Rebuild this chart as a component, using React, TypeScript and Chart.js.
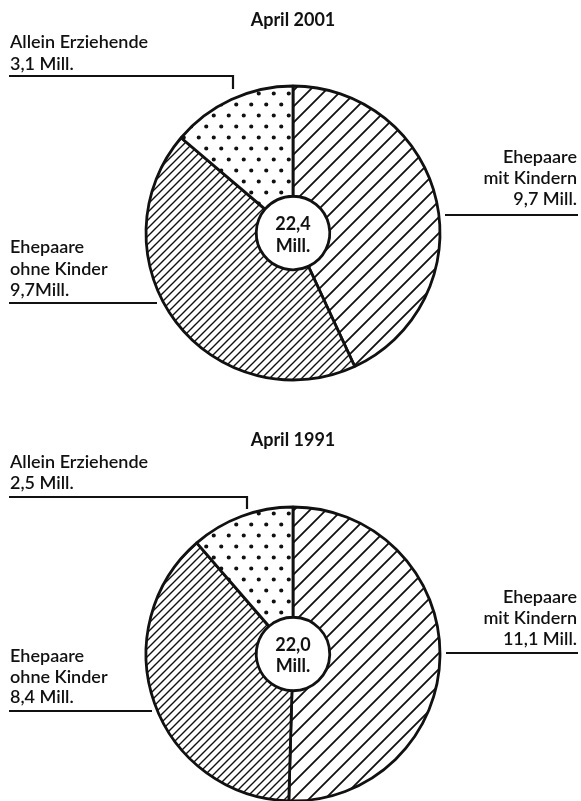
import React, { useEffect, useRef } from "react";
import { Chart, registerables } from "chart.js";

Chart.register(...registerables);

// ---- data ----
const categoryLines: string[][] = [
  ["Ehepaare", "mit Kindern"],
  ["Ehepaare", "ohne Kinder"],
  ["Allein Erziehende"],
];
const titles = ["April 2001", "April 1991"];
const values2001 = [9.7, 9.7, 3.1];
const values1991 = [11.1, 8.4, 2.5];
const totalLabels = ["22,4", "22,0"];
const valueLabels2001 = ["9,7 Mill.", "9,7Mill.", "3,1 Mill."];
const valueLabels1991 = ["11,1 Mill.", "8,4 Mill.", "2,5 Mill."];

// ---- layout (positions only) ----
type LabelPos = {
  x: number;
  align: CanvasTextAlign;
  baselines: number[];
  line: [number, number][];
};
type Layout = {
  top: number;
  height: number;
  padTop: number;
  titleY: number;
  centerY: [number, number];
  labels: LabelPos[];
};

const layouts: Layout[] = [
  {
    top: 0,
    height: 420,
    padTop: 46,
    titleY: 26,
    centerY: [230, 252],
    labels: [
      { x: 577, align: "right", baselines: [163, 184, 205], line: [[445, 215], [578, 215]] },
      { x: 10, align: "left", baselines: [253, 275, 296], line: [[9, 303], [157, 303]] },
      { x: 10, align: "left", baselines: [48, 70], line: [[9, 76], [233, 76], [233, 89]] },
    ],
  },
  {
    top: 420,
    height: 400,
    padTop: 68,
    titleY: 26,
    centerY: [231, 252],
    labels: [
      { x: 577, align: "right", baselines: [183, 204, 225], line: [[446, 233], [578, 233]] },
      { x: 10, align: "left", baselines: [242, 263, 283], line: [[9, 291], [152, 291]] },
      { x: 10, align: "left", baselines: [48, 69], line: [[9, 77], [247, 77], [247, 89]] },
    ],
  },
];

const FONT = "Lato, 'Open Sans', sans-serif";
const INK = "#111";

function makeHatch(size: number, width: number): CanvasPattern | string {
  const c = document.createElement("canvas");
  c.width = size;
  c.height = size;
  const g = c.getContext("2d");
  if (!g) return "#fff";
  g.fillStyle = "#fff";
  g.fillRect(0, 0, size, size);
  g.strokeStyle = INK;
  g.lineWidth = width;
  g.lineCap = "square";
  g.beginPath();
  g.moveTo(0, size);
  g.lineTo(size, 0);
  g.moveTo(-size / 2, size / 2);
  g.lineTo(size / 2, -size / 2);
  g.moveTo(size / 2, size * 1.5);
  g.lineTo(size * 1.5, size / 2);
  g.stroke();
  const p = g.createPattern(c, "repeat");
  return p || "#fff";
}

function makeDots(w: number, h: number, r: number): CanvasPattern | string {
  const c = document.createElement("canvas");
  c.width = w;
  c.height = h;
  const g = c.getContext("2d");
  if (!g) return "#fff";
  g.fillStyle = "#fff";
  g.fillRect(0, 0, w, h);
  g.fillStyle = INK;
  g.beginPath();
  g.arc(w / 4, h / 4, r, 0, Math.PI * 2);
  g.arc((3 * w) / 4, (3 * h) / 4, r, 0, Math.PI * 2);
  g.fill();
  const p = g.createPattern(c, "repeat");
  return p || "#fff";
}

function PieChart({ index }: { index: number }) {
  const ref = useRef<HTMLCanvasElement | null>(null);
  const lay = layouts[index];
  const values = index === 0 ? values2001 : values1991;
  const valueLabels = index === 0 ? valueLabels2001 : valueLabels1991;

  useEffect(() => {
    if (!ref.current) return;
    const patterns = [makeHatch(16, 1.8), makeHatch(8, 1.4), makeDots(15, 22, 2.1)];

    const annotate = {
      id: "annotate" + index,
      afterDraw(chart: Chart) {
        const ctx = chart.ctx;
        const meta = chart.getDatasetMeta(0);
        const arc: any = meta.data[0];
        const cx = arc ? arc.x : 293;
        ctx.save();
        ctx.fillStyle = INK;
        ctx.strokeStyle = INK;
        // title
        ctx.font = `bold 18px ${FONT}`;
        ctx.textAlign = "center";
        ctx.textBaseline = "alphabetic";
        ctx.fillText(titles[index], cx, lay.titleY);
        // centre
        ctx.font = `bold 18px ${FONT}`;
        ctx.fillText(totalLabels[index], cx, lay.centerY[0]);
        ctx.fillText("Mill.", cx, lay.centerY[1]);
        // labels
        ctx.font = `600 18px ${FONT}`;
        lay.labels.forEach((lp, i) => {
          const lines = [...categoryLines[i], valueLabels[i]];
          ctx.textAlign = lp.align;
          lines.forEach((t, k) => ctx.fillText(t, lp.x, lp.baselines[k]));
          ctx.lineWidth = 2.2;
          ctx.beginPath();
          lp.line.forEach(([x, y], k) => (k === 0 ? ctx.moveTo(x, y) : ctx.lineTo(x, y)));
          ctx.stroke();
        });
        ctx.restore();
      },
    };

    const chart = new Chart(ref.current, {
      type: "doughnut",
      data: {
        labels: categoryLines.map((l) => l.join(" ")),
        datasets: [
          {
            data: values,
            backgroundColor: patterns as any,
            borderColor: INK,
            borderWidth: 2.8,
            borderAlign: "center",
            hoverOffset: 0,
          },
        ],
      },
      options: {
        responsive: false,
        animation: false,
        cutout: "25%",
        radius: 147,
        layout: { padding: { top: lay.padTop, left: 5, right: 0, bottom: 0 } },
        plugins: {
          legend: { display: false },
          tooltip: { enabled: false },
        },
        events: [],
      },
      plugins: [annotate],
    });
    return () => chart.destroy();
  }, [index]);

  return (
    <canvas
      ref={ref}
      width={581}
      height={lay.height}
      style={{ position: "absolute", left: 0, top: lay.top, width: 581, height: lay.height }}
    />
  );
}

export default function App() {
  return (
    <div
      style={{
        position: "absolute",
        left: 0,
        top: 0,
        width: 581,
        height: 801,
        overflow: "hidden",
        background: "#fff",
      }}
    >
      <PieChart index={0} />
      <PieChart index={1} />
    </div>
  );
}
